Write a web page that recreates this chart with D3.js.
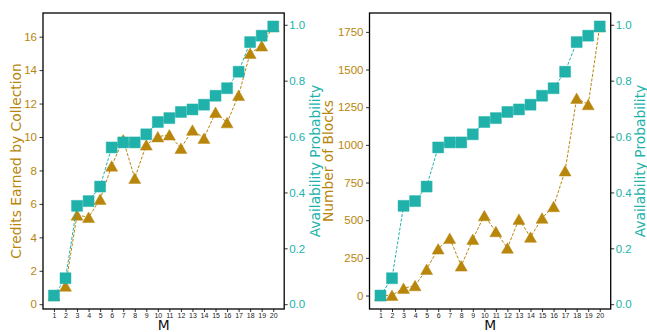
<!DOCTYPE html>
<html>
<head>
<meta charset="utf-8">
<script src="https://d3js.org/d3.v7.min.js"></script>
<style>
  html, body { margin: 0; padding: 0; background: #fff; }
  svg { display: block; font-family: "DejaVu Sans", sans-serif; }
</style>
</head>
<body>
<div id="chart"></div>
<script>
// M values on the x axis
const mValues = [1, 2, 3, 4, 5, 6, 7, 8, 9, 10, 11, 12, 13, 14, 15, 16, 17, 18, 19, 20];

// left panel: credits earned by collection (left axis)
const credits = [0.52, 1.09, 5.34, 5.20, 6.28, 8.27, 9.83, 7.54, 9.53, 10.02,
                 10.13, 9.33, 10.42, 9.93, 11.48, 10.86, 12.50, 15.01, 15.45, 16.61];

// both panels: availability probability (right axis)
const availability = [0.031, 0.093, 0.352, 0.369, 0.421, 0.561, 0.579, 0.579, 0.608, 0.652,
                      0.666, 0.688, 0.697, 0.714, 0.746, 0.773, 0.832, 0.938, 0.961, 0.994];

// right panel: number of blocks (left axis)
const blocks = [0, 2, 49, 66, 175, 310, 381, 197, 374, 531,
                425, 315, 507, 388, 514, 591, 828, 1310, 1268, 1786];

// tick labels
const creditTicks = [0, 2, 4, 6, 8, 10, 12, 14, 16];
const blockTicks = [0, 250, 500, 750, 1000, 1250, 1500, 1750];
const probTicks = [0.0, 0.2, 0.4, 0.6, 0.8, 1.0];

const gold = '#b8860b';
const teal = '#20b2aa';

const width = 647, height = 332;
const plotTop = 13, plotBottom = 309;

const svg = d3.select('#chart')
    .append('svg')
    .attr('width', width)
    .attr('height', height);

svg.append('rect')
    .attr('width', width)
    .attr('height', height)
    .attr('fill', '#fff');

// matplotlib-like 5% padding of the data range
function padded(values) {
    const [lo, hi] = d3.extent(values);
    const m = (hi - lo) * 0.05;
    return [lo - m, hi + m];
}

function trianglePath(w, h) {
    return `M0,${-h / 2}L${w / 2},${h / 2}L${-w / 2},${h / 2}Z`;
}

function drawSeries(g, x, y, values, color, shape) {
    const line = d3.line()
        .x((d, i) => x(mValues[i]))
        .y(d => y(d));

    g.append('path')
        .datum(values)
        .attr('d', line)
        .attr('fill', 'none')
        .attr('stroke', color)
        .attr('stroke-width', 1)
        .attr('stroke-dasharray', '3,1.6');

    const pts = g.selectAll(null)
        .data(values)
        .join('path')
        .attr('transform', (d, i) => `translate(${x(mValues[i])},${y(d)})`)
        .attr('fill', color)
        .attr('stroke', color)
        .attr('stroke-opacity', 0.45)
        .attr('stroke-width', 1);

    if (shape === 'square') {
        pts.attr('d', 'M-5.5,-5.5H5.5V5.5H-5.5Z');
    } else {
        pts.attr('d', trianglePath(12, 10.5));
    }
}

function drawPanel(opts) {
    const x = d3.scaleLinear().domain([0.05, 20.95]).range([opts.left, opts.right]);
    const yL = d3.scaleLinear().domain(padded(opts.leftData)).range([plotBottom, plotTop]);
    const yR = d3.scaleLinear().domain(padded(availability)).range([plotBottom, plotTop]);

    const g = svg.append('g');

    // x axis
    const xAxis = g.append('g')
        .attr('transform', `translate(0,${plotBottom})`)
        .call(d3.axisBottom(x).tickValues(mValues).tickSize(3).tickPadding(1.5).tickFormat(d3.format('d')));
    xAxis.select('.domain').remove();
    xAxis.selectAll('text')
        .style('font-size', '7px')
        .attr('fill', '#222');
    xAxis.selectAll('line').attr('stroke', '#000').attr('stroke-width', 0.8);

    // left axis
    const lAxis = g.append('g')
        .attr('transform', `translate(${opts.left},0)`)
        .call(d3.axisLeft(yL).tickValues(opts.leftTicks).tickSize(3.5).tickPadding(2.5).tickFormat(d3.format('d')));
    lAxis.select('.domain').remove();
    lAxis.selectAll('text')
        .style('font-size', '11.5px')
        .attr('fill', gold);
    lAxis.selectAll('line').attr('stroke', '#000').attr('stroke-width', 0.8);

    // right axis
    const rAxis = g.append('g')
        .attr('transform', `translate(${opts.right},0)`)
        .call(d3.axisRight(yR).tickValues(probTicks).tickSize(3.5).tickPadding(1.5).tickFormat(d3.format('.1f')));
    rAxis.select('.domain').remove();
    rAxis.selectAll('text')
        .style('font-size', '11.5px')
        .attr('fill', teal);
    rAxis.selectAll('line').attr('stroke', '#000').attr('stroke-width', 0.8);

    // series: left axis first, twin axis drawn on top
    drawSeries(g, x, yL, opts.leftData, gold, 'triangle');
    drawSeries(g, x, yR, availability, teal, 'square');

    // frame
    g.append('rect')
        .attr('x', opts.left)
        .attr('y', plotTop)
        .attr('width', opts.right - opts.left)
        .attr('height', plotBottom - plotTop)
        .attr('fill', 'none')
        .attr('stroke', '#000')
        .attr('stroke-width', 1.3);

    // labels
    g.append('text')
        .attr('transform', `translate(${opts.leftLabelX},${(plotTop + plotBottom) / 2}) rotate(-90)`)
        .attr('text-anchor', 'middle')
        .attr('dominant-baseline', 'central')
        .style('font-size', '13.8px')
        .attr('fill', gold)
        .text(opts.leftLabel);

    g.append('text')
        .attr('transform', `translate(${opts.rightLabelX},${(plotTop + plotBottom) / 2}) rotate(-90)`)
        .attr('text-anchor', 'middle')
        .attr('dominant-baseline', 'central')
        .style('font-size', '13.8px')
        .attr('fill', teal)
        .text('Availability Probability');

    g.append('text')
        .attr('x', (opts.left + opts.right) / 2)
        .attr('y', 330)
        .attr('text-anchor', 'middle')
        .style('font-size', '13.8px')
        .attr('fill', '#111')
        .text('M');
}

drawPanel({
    left: 43, right: 284.2,
    leftData: credits,
    leftTicks: creditTicks,
    leftLabel: 'Credits Earned by Collection',
    leftLabelX: 16,
    rightLabelX: 314.5
});

drawPanel({
    left: 369.5, right: 610.7,
    leftData: blocks,
    leftTicks: blockTicks,
    leftLabel: 'Number of Blocks',
    leftLabelX: 327.5,
    rightLabelX: 639.5
});
</script>
</body>
</html>
